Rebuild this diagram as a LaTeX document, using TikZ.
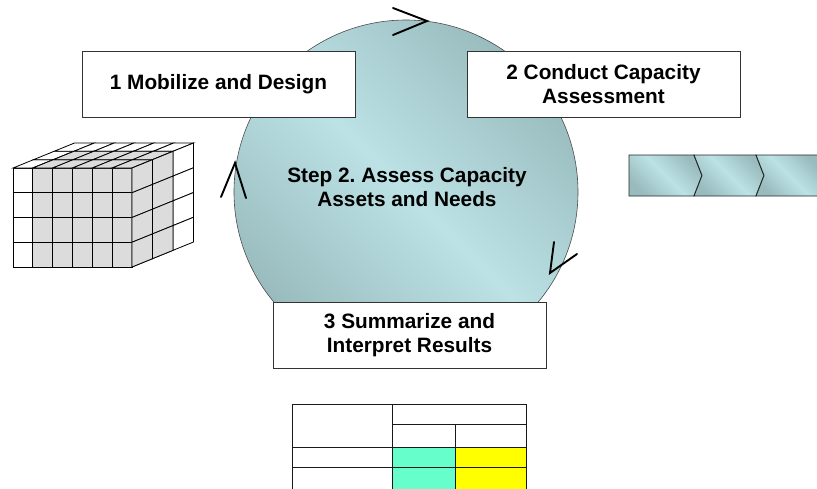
\documentclass[tikz,border=0pt]{standalone}
\usepackage{fontspec}
\setmainfont{Liberation Sans}
\begin{document}
\frenchspacing
\definecolor{tealdark}{HTML}{99BBBD}
\definecolor{teallight}{HTML}{BCE2E6}
\definecolor{cubegray}{HTML}{DCDCDC}
\definecolor{cellcyan}{HTML}{66FFCC}
\definecolor{cellyellow}{HTML}{FFFF00}
\begin{tikzpicture}[x=1pt,y=-1pt,
  steptext/.style={font=\bfseries\fontsize{20.8}{24.5}\selectfont, align=center, text=black},
  stepbox/.style={steptext, draw=black!80, line width=0.8pt, fill=white,
    minimum width=273pt, minimum height=66pt, inner sep=0pt},
  tealshade/.style={top color=tealdark, bottom color=tealdark, middle color=teallight, shading angle=-45},
  headline/.style={line width=1.9pt, line cap=round, line join=miter},
  cubeline/.style={draw=black, line width=0.8pt},
  gridline/.style={draw=black!90, line width=1pt}]
\useasboundingbox (0,0) rectangle (817,488);
\clip (0,0) rectangle (817,488);

% central cycle
\node[circle, draw=black!70, line width=0.6pt, tealshade, minimum size=344pt, inner sep=0pt]
  (cycle) at (406,192) {};
\node[steptext] (steptitle) at (407,187) {Step 2. Assess Capacity\\Assets and Needs};

% arrowheads running round the cycle
\draw[headline] (393,8) -- (427,21) -- (393,35);
\draw[headline] (221,197) -- (235,163) -- (246,198);
\draw[headline] (554,242) -- (550,273) -- (577,254);

% step boxes
\node[stepbox] (mobilize) at (218.5,84) {1 Mobilize and Design};
\node[stepbox] (conduct) at (603.5,84) {2 Conduct Capacity\\Assessment};
\node[stepbox] (summarize) at (409.5,335) {3 Summarize and\\Interpret Results};

% cube of cells: front face, top face, right face
\def\cw{19.83}\def\ch{24.75}\def\dx{20.5}\def\dy{-8.33}
\foreach \i in {0,...,5}
  \foreach \j in {0,...,3}
    \filldraw[cubeline, fill=white] (13+\i*\cw,168+\j*\ch) rectangle ++(\cw,\ch);
\foreach \i in {1,...,5}
  \foreach \j in {0,...,3}
    \filldraw[cubeline, fill=cubegray] (13+\i*\cw,168+\j*\ch) rectangle ++(\cw,\ch);
\foreach \i in {0,...,5}
  \foreach \k in {0,...,2}
    \filldraw[cubeline, fill=white] (13+\i*\cw+\k*\dx,168+\k*\dy)
      -- ++(\cw,0) -- ++(\dx,\dy) -- ++(-\cw,0) -- cycle;
\foreach \i in {1,...,5}
  \foreach \k in {0,1}
    \filldraw[cubeline, fill=cubegray] (13+\i*\cw+\k*\dx,168+\k*\dy)
      -- ++(\cw,0) -- ++(\dx,\dy) -- ++(-\cw,0) -- cycle;
\foreach \j in {0,...,3}
  \foreach \k in {0,...,2}
    \filldraw[cubeline, fill=white] (13+6*\cw+\k*\dx,168+\j*\ch+\k*\dy)
      -- ++(\dx,\dy) -- ++(0,\ch) -- ++(-\dx,-\dy) -- cycle;
\foreach \j in {0,...,3}
  \foreach \k in {0,1}
    \filldraw[cubeline, fill=cubegray] (13+6*\cw+\k*\dx,168+\j*\ch+\k*\dy)
      -- ++(\dx,\dy) -- ++(0,\ch) -- ++(-\dx,-\dy) -- cycle;

% chevron process strip
\shadedraw[tealshade, draw=black!85, line width=0.9pt]
  (629,155) -- (694,155) -- (702,175.5) -- (694,196) -- (629,196) -- cycle;
\shadedraw[tealshade, draw=black!85, line width=0.9pt]
  (694,155) -- (756,155) -- (764,175.5) -- (756,196) -- (694,196) -- (702,175.5) -- cycle;
\shadedraw[tealshade, draw=black!85, line width=0.9pt]
  (756,155) -- (822,155) -- (822,196) -- (756,196) -- (764,175.5) -- cycle;

% results table
\fill[cellcyan] (392,447) rectangle (455,495);
\fill[cellyellow] (455,447) rectangle (526,495);
\draw[gridline] (292,495) -- (292,404) -- (526,404) -- (526,495);
\draw[gridline] (392,404) -- (392,495);
\draw[gridline] (455,424) -- (455,495);
\draw[gridline] (392,424) -- (526,424);
\draw[gridline] (292,447) -- (526,447);
\draw[gridline] (292,467) -- (526,467);
\end{tikzpicture}
\end{document}
